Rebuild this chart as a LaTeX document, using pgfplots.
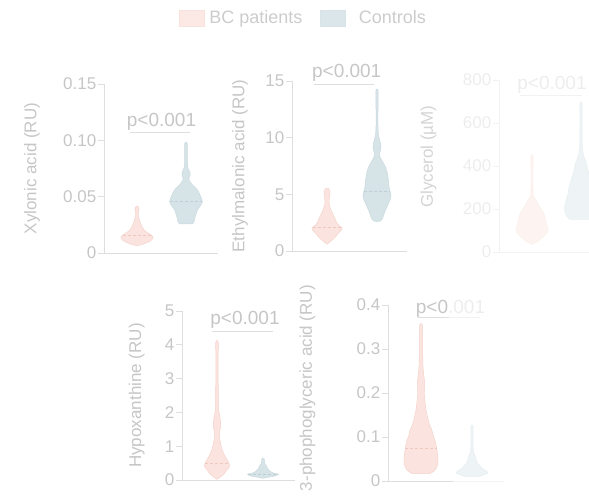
\documentclass[border=0pt]{standalone}
\usepackage{fontspec}
\setmainfont{Liberation Sans}
\usepackage{pgfplots}
\pgfplotsset{compat=1.18}
\usepackage{pgfplotstable}
\usepgfplotslibrary{fillbetween}

\definecolor{txt}{HTML}{C6C6C6}
\definecolor{legtxt}{HTML}{CCCCCC}
\definecolor{axg}{HTML}{DEDEDE}
\definecolor{pfill}{HTML}{FBE4DF}
\definecolor{pedge}{HTML}{F5D3CB}
\definecolor{pmed}{HTML}{EFC8BF}
\definecolor{bfill}{HTML}{D6E3E7}
\definecolor{bedge}{HTML}{CADADF}
\definecolor{bmed}{HTML}{BED0D6}
\definecolor{ftxt}{HTML}{EDEDED}
\definecolor{flab}{HTML}{D4D4D4}
\definecolor{fax}{HTML}{F2F2F2}
\definecolor{fpfill}{HTML}{FDF4F1}
\definecolor{fpedge}{HTML}{FBEEEA}
\definecolor{fbfill}{HTML}{EEF3F5}
\definecolor{fbedge}{HTML}{E8EFF1}

% ---- violin profiles: y value, half width (px) ----
\pgfplotstableread{
y w
0.0065 0
0.0072 4
0.0085 8
0.0100 12
0.0120 15
0.0140 16
0.0158 14.5
0.0178 11
0.0200 7.5
0.0225 5.5
0.0255 4
0.0285 2.8
0.0315 1.8
0.0345 1.2
0.0370 1.5
0.0390 2.2
0.0405 1.8
0.0415 0
}\xylP
\pgfplotstableread{
y w
0.0258 6.5
0.0275 8
0.0300 8.5
0.0330 9.5
0.0360 10.5
0.0390 12
0.0420 14.5
0.0455 16.3
0.0485 15.5
0.0515 14
0.0545 12.5
0.0570 10.5
0.0595 7.5
0.0620 5
0.0645 3.2
0.0665 3
0.0690 4
0.0715 4
0.0740 2.6
0.0770 1.6
0.0820 1.3
0.0900 1.3
0.0950 1.5
0.0975 1.2
0.0985 0
}\xylB
\pgfplotstableread{
y w
0.60 0
0.80 3
1.00 5.5
1.25 8.5
1.55 11
1.85 14.5
2.05 15
2.25 12
2.45 10
2.75 8.5
3.05 7
3.40 5
3.75 3.5
4.10 2.3
4.40 2
4.70 2.5
5.00 3
5.30 2.8
5.50 1.5
5.55 0
}\ethP
\pgfplotstableread{
y w
2.60 0
2.65 3.5
2.80 5
3.10 6.5
3.40 7.5
3.80 9.5
4.20 11.5
4.60 13.5
4.95 14
5.30 13
5.70 12
6.10 11.7
6.50 11
7.00 10
7.50 8
7.90 5.5
8.30 3
8.60 2.5
8.90 3.5
9.30 4
9.70 3
10.2 1.5
11.0 1
12.5 1
13.8 1.2
14.2 1
14.3 0
}\ethB
\pgfplotstableread{
y w
36 0
50 6
70 11
90 15
110 16
135 14
160 13
180 12
200 9
215 7
230 5.5
245 3.5
260 1.5
300 1
400 1
440 1.2
451 0
}\glyP
\pgfplotstableread{
y w
152 11
165 14
185 16
205 16.5
240 15
270 13
300 12
340 9.5
380 7
420 5
450 2.5
500 1.2
600 1
690 1
694 0
}\glyB
\pgfplotstableread{
y w
0.02 0
0.10 4
0.20 7.5
0.30 10
0.40 12.5
0.50 12
0.60 10
0.70 8
0.80 6.5
0.95 4.5
1.10 3.5
1.25 2.5
1.40 2.5
1.55 3.5
1.70 3.5
1.85 3
2.00 2
2.20 1.5
3.00 1.2
3.80 1.2
4.05 1.5
4.13 0
}\hypP
\pgfplotstableread{
y w
0.05 0
0.08 5
0.12 12
0.17 15.5
0.21 10
0.26 7
0.32 5
0.38 4
0.43 3.2
0.47 2
0.52 1.5
0.58 1.5
0.63 1
0.65 0
}\hypB
\pgfplotstableread{
y w
0.017 8.7
0.020 11.5
0.025 14
0.032 15.8
0.042 17
0.055 16.8
0.070 16
0.085 14.8
0.095 13.5
0.105 12
0.116 10.8
0.128 8.5
0.139 7.2
0.155 5.5
0.170 4.5
0.185 3.8
0.200 3.2
0.212 3.5
0.225 3.6
0.240 2.8
0.260 2
0.300 1.6
0.340 1.5
0.355 1.2
0.358 0
}\phoP
\pgfplotstableread{
y w
0.010 7
0.014 12
0.018 16
0.022 15
0.026 12
0.032 9
0.038 6.5
0.044 5
0.050 4
0.056 3.5
0.063 2
0.075 1.2
0.100 1
0.125 1
0.128 0
}\phoB

% #1 table, #2 centre, #3 fill, #4 edge, #5 unique name
\newcommand{\violin}[5]{%
  \addplot[draw=none, smooth, tension=0.4, name path=#5R] table[x expr=#2+\thisrow{w}, y=y] {#1};
  \addplot[draw=none, smooth, tension=0.4, name path=#5L] table[x expr=#2-\thisrow{w}, y=y] {#1};
  \addplot[fill=#3, draw=#4, line width=0.5pt] fill between[of=#5R and #5L, reverse=true];
}

\tikzset{pval/.style={font=\fontsize{19}{22}\selectfont, text=txt, anchor=base, inner sep=0pt}}

\pgfplotsset{
  vio/.style={
    scale only axis, axis lines=left, clip=false,
    axis line style={-, draw=axg, line width=0.8pt},
    xmin=0, xtick=\empty, ymin=0,
    ytick pos=left, tick align=outside, major tick length=6pt,
    ytick style={draw=axg, line width=0.8pt},
    yticklabel style={text=txt, inner xsep=1.5pt, font=\fontsize{17}{20}\selectfont},
    ylabel style={text=txt, font=\fontsize{17}{20}\selectfont, anchor=center},
    /pgf/number format/assume math mode=true,
    anchor=south west,
  },
  plegA/.style={legend image code/.code={\draw[##1] (0pt,-8pt) rectangle (25pt,8pt); \path (30pt,0pt);}},
  plegB/.style={legend image code/.code={\draw[##1] (0pt,-8pt) rectangle (25pt,8pt); \path (38pt,0pt);}},
}

\begin{document}
\begin{tikzpicture}

% ---------------- Xylonic acid ----------------
\begin{axis}[vio, at={(104pt,244pt)}, width=114pt, height=169pt, xmax=114, ymax=0.15,
  ytick={0,0.05,0.1,0.15}, yticklabels={0,0.05,0.10,0.15},
  ylabel={Xylonic acid (RU)}, ylabel style={at={(axis description cs:-0.632,0.5)}},
  legend columns=2,
  legend style={at={(axis description cs:1.741,1.391)}, anchor=center, draw=none, fill=none,
    font=\fontsize{18}{21}\selectfont, text=legtxt,
    nodes={inner xsep=0pt},
    /tikz/every even column/.append style={column sep=18pt}},
]
\addlegendimage{plegA, fill=pfill!85, draw=pedge!70}
\addlegendentry{BC patients}
\addlegendimage{plegB, fill=bfill!90, draw=bfill}
\addlegendentry{Controls}
\violin{\xylP}{33}{pfill}{pedge}{xa}
\violin{\xylB}{82}{bfill}{bedge}{xb}
\addplot[pmed, dash pattern=on 3pt off 2pt, line width=0.6pt] coordinates {(19,0.0155) (47,0.0155)};
\addplot[bmed, dash pattern=on 3pt off 2pt, line width=0.6pt] coordinates {(66,0.046) (98,0.046)};
\addplot[axg, line width=0.8pt] coordinates {(26,0.1074) (86,0.1074)};
\node[pval] at (axis cs:57.5,0.1121) {p<0.001};
\end{axis}

% ---------------- Ethylmalonic acid ----------------
\begin{axis}[vio, at={(292pt,246pt)}, width=115pt, height=170pt, xmax=115, ymax=15,
  ytick={0,5,10,15}, yticklabels={0,5,10,15},
  ylabel={Ethylmalonic acid (RU)}, ylabel style={at={(axis description cs:-0.452,0.5)}},
]
\violin{\ethP}{35}{pfill}{pedge}{ea}
\violin{\ethB}{85}{bfill}{bedge}{eb}
\addplot[pmed, dash pattern=on 3pt off 2pt, line width=0.6pt] coordinates {(21,2.1) (49,2.1)};
\addplot[bmed, dash pattern=on 3pt off 2pt, line width=0.6pt] coordinates {(72,5.25) (98,5.25)};
\addplot[axg, line width=0.8pt] coordinates {(22.3,14.71) (82,14.71)};
\node[pval] at (axis cs:54.7,15.29) {p<0.001};
\end{axis}

% ---------------- Glycerol (faded) ----------------
\begin{axis}[vio, at={(499pt,245pt)}, width=115pt, height=172pt, xmax=115, ymax=800,
  axis line style={-, draw=fax, line width=0.8pt},
  ytick style={draw=fax, line width=0.8pt},
  yticklabel style={text=ftxt},
  ytick={0,200,400,600,800}, yticklabels={0,200,400,600,800},
  ylabel={Glycerol (µM)}, ylabel style={text=flab, at={(axis description cs:-0.613,0.555)}},
]
\violin{\glyP}{33}{fpfill}{fpedge}{ga}
\violin{\glyB}{82}{fbfill}{fbedge}{gb}
\addplot[fax, line width=0.8pt] coordinates {(21,727) (82.7,727)};
\node[pval, text=ftxt] at (axis cs:53,753.5) {p<0.001};
\end{axis}

% ---------------- Hypoxanthine ----------------
\begin{axis}[vio, at={(182pt,17pt)}, width=113pt, height=169pt, xmax=113, ymax=5,
  ytick={0,1,2,3,4,5}, yticklabels={0,1,2,3,4,5},
  ylabel={Hypoxanthine (RU)}, ylabel style={at={(axis description cs:-0.401,0.5)}},
]
\violin{\hypP}{35}{pfill}{pedge}{ha}
\violin{\hypB}{81}{bfill}{bedge}{hb}
\addplot[pmed, dash pattern=on 3pt off 2pt, line width=0.6pt] coordinates {(23,0.49) (47,0.49)};
\addplot[bmed, dash pattern=on 3pt off 2pt, line width=0.6pt] coordinates {(66,0.17) (96,0.17)};
\addplot[axg, line width=0.8pt] coordinates {(30.3,4.41) (91.3,4.41)};
\node[pval] at (axis cs:63,4.586) {p<0.001};
\end{axis}

% ---------------- 3-phophoglyceric acid ----------------
\begin{axis}[vio, at={(388pt,16pt)}, width=116pt, height=176pt, xmax=116, ymax=0.4,
  x axis line style={draw=none},
  ytick={0,0.1,0.2,0.3,0.4}, yticklabels={0,0.1,0.2,0.3,0.4},
  ylabel={3-phophoglyceric acid (RU)}, ylabel style={at={(axis description cs:-0.694,0.528)}},
]
\violin{\phoP}{33}{pfill}{pedge}{pa}
\violin{\phoB}{84}{fbfill}{fbedge}{pb}
\addplot[pmed, dash pattern=on 3pt off 2pt, line width=0.6pt] coordinates {(17,0.074) (49,0.074)};
\addplot[axg, line width=0.8pt] coordinates {(0,0) (65,0)};
\addplot[fax, line width=0.8pt] coordinates {(65,0) (116,0)};
\addplot[axg, line width=0.8pt] coordinates {(30.3,0.372) (61,0.372)};
\addplot[fax, line width=0.8pt] coordinates {(61,0.372) (92,0.372)};
\node[pval] at (axis cs:62.5,0.381) {p<0\textcolor{ftxt}{.001}};
\end{axis}

\pgfresetboundingbox
\path[use as bounding box] (0,0) rectangle (589pt,497pt);
\end{tikzpicture}
\end{document}
